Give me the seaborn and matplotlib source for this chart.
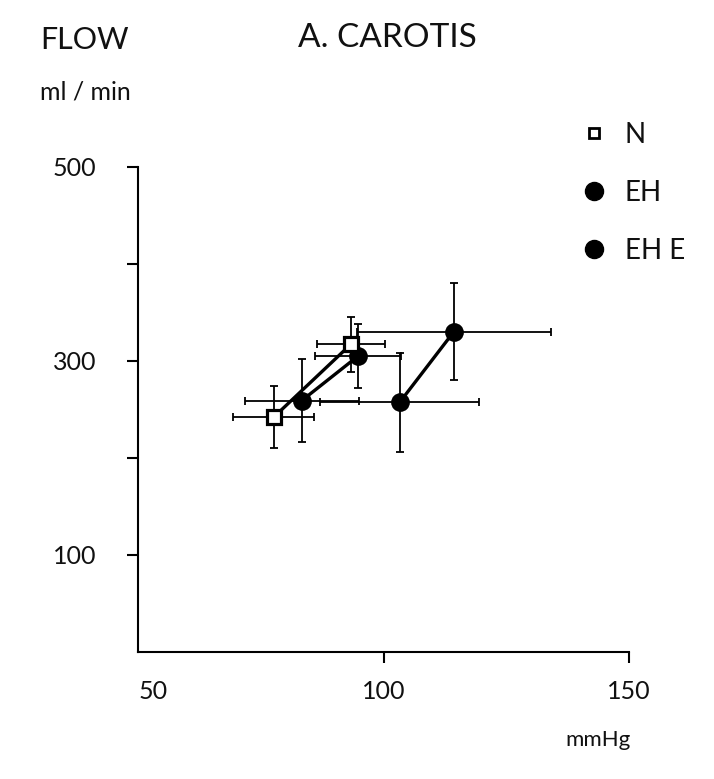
import numpy as np
import pandas as pd
import seaborn as sns
import matplotlib.pyplot as plt
from matplotlib.lines import Line2D

# mean arterial pressure (mmHg) and carotid flow (ml/min), two states per group
groups = ['N', 'EH', 'EH E']
n_map = [77.6, 93.3]
n_flow = [242, 317]
n_map_sd = [8.3, 6.9]
n_flow_sd = [32, 28]

eh_map = [83.3, 94.8]
eh_flow = [259, 305]
eh_map_sd = [11.6, 8.8]
eh_flow_sd = [43, 33]

ehe_map = [103.3, 114.3]
ehe_flow = [257.5, 330]
ehe_map_sd = [16.2, 19.8]
ehe_flow_sd = [51, 50]

df = pd.DataFrame({
    'group': ['N'] * 2 + ['EH'] * 2 + ['EH E'] * 2,
    'map': n_map + eh_map + ehe_map,
    'flow': n_flow + eh_flow + ehe_flow,
    'map_sd': n_map_sd + eh_map_sd + ehe_map_sd,
    'flow_sd': n_flow_sd + eh_flow_sd + ehe_flow_sd,
})

sns.set_style('white')
plt.rcParams['font.family'] = ['Lato', 'DejaVu Sans']

fig = plt.figure(figsize=(7.14, 7.79), dpi=100)
ax = fig.add_axes([0.1937, 0.163, 0.6873, 0.623])

ax.errorbar(df['map'], df['flow'], xerr=df['map_sd'], yerr=df['flow_sd'],
            fmt='none', ecolor='black', elinewidth=1.3, capsize=3.2, capthick=1.3, zorder=1)

styles = {
    'N': dict(marker='s', markersize=10, markerfacecolor='white', markeredgewidth=2.3),
    'EH': dict(marker='o', markersize=13.5, markerfacecolor='black', markeredgewidth=0),
    'EH E': dict(marker='o', markersize=13.5, markerfacecolor='black', markeredgewidth=0),
}
for g in ['EH E', 'EH', 'N']:
    sub = df[df['group'] == g]
    sns.lineplot(data=sub, x='map', y='flow', sort=False, color='black', lw=2.4,
                 markeredgecolor='black', ax=ax, legend=False, zorder=3, **styles[g])

ax.set_xlim(50, 150)
ax.set_ylim(0, 500)
ax.set_xlabel('')
ax.set_ylabel('')
sns.despine(ax=ax)
for s in ['left', 'bottom']:
    ax.spines[s].set_linewidth(1.5)
    ax.spines[s].set_color('black')

ax.set_xticks([50, 100, 150])
ax.set_xticklabels(['50', '100', '150'])
ax.set_yticks([100, 200, 300, 400, 500])
ax.set_yticklabels(['100', '', '300', '', '500'])
ax.tick_params(axis='both', direction='out', length=8, width=1.5, color='black',
               labelsize=18, labelcolor='#111111', left=True, bottom=True)
ax.tick_params(axis='x', pad=12)
ax.tick_params(axis='y', pad=22)
ax.xaxis.get_major_ticks()[0].tick1line.set_visible(False)
ax.get_xticklabels()[0].set_horizontalalignment('left')

fig.text(0.056, 0.949, 'FLOW', fontsize=22, va='center', ha='left', color='#111111')
fig.text(0.056, 0.882, 'ml / min', fontsize=18, va='center', ha='left', color='#111111')
fig.text(0.542, 0.951, 'A. CAROTIS', fontsize=24, va='center', ha='center', color='#111111')
fig.text(0.8375, 0.05, 'mmHg', fontsize=16, va='center', ha='center', color='#111111')

handles = [
    Line2D([], [], ls='none', color='black', marker='s', markersize=7,
           markerfacecolor='white', markeredgewidth=2),
    Line2D([], [], ls='none', color='black', marker='o', markersize=13),
    Line2D([], [], ls='none', color='black', marker='o', markersize=13),
]
fig.legend(handles, groups, loc='upper left', bbox_to_anchor=(0.797, 0.861),
           bbox_transform=fig.transFigure, frameon=False, fontsize=20,
           handlelength=0.8, handletextpad=0.7, labelspacing=1.15, borderpad=0,
           labelcolor='#111111')

fig.savefig('out.png', dpi=100, facecolor='white')
